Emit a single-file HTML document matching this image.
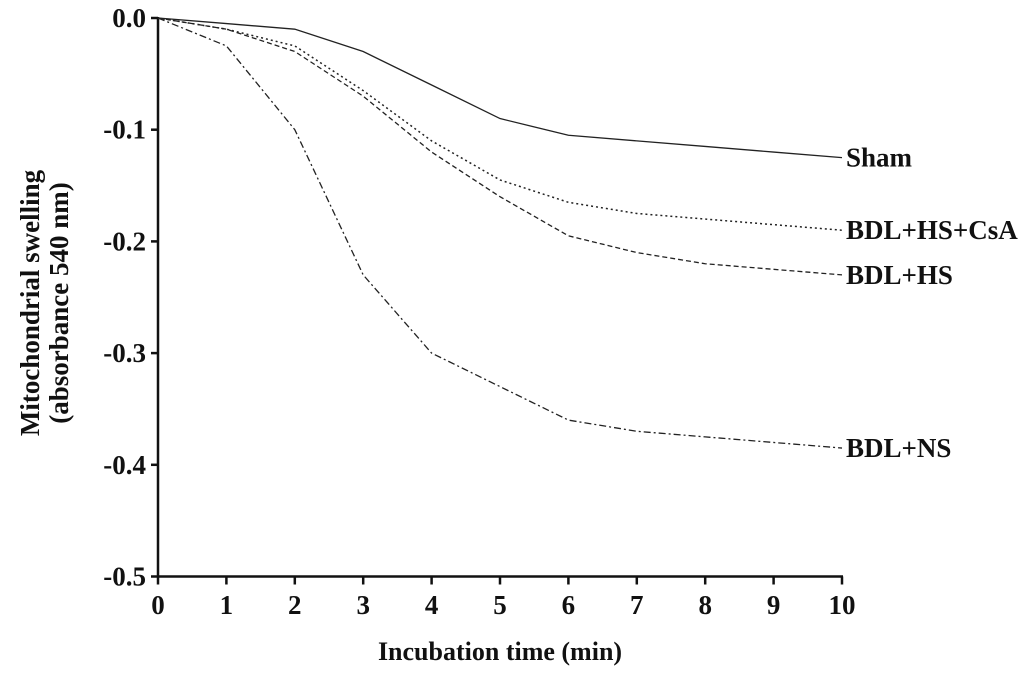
<!DOCTYPE html>
<html><head><meta charset="utf-8"><style>
body{margin:0;background:#fff}
svg text{font-family:"Liberation Serif",serif;font-weight:bold;fill:#111}
</style></head><body>
<svg width="1033" height="672" xmlns="http://www.w3.org/2000/svg">
<g id="g"></g>
</svg>
<script>
const times=[0,1,2,3,4,5,6,7,8,9,10];
const sham=[0,-0.005,-0.01,-0.03,-0.06,-0.09,-0.105,-0.11,-0.115,-0.12,-0.125];
const hsCsa=[0,-0.01,-0.025,-0.065,-0.11,-0.145,-0.165,-0.175,-0.18,-0.185,-0.19];
const hs=[0,-0.01,-0.03,-0.07,-0.12,-0.16,-0.195,-0.21,-0.22,-0.225,-0.23];
const ns=[0,-0.025,-0.1,-0.23,-0.3,-0.33,-0.36,-0.37,-0.375,-0.38,-0.385];
const xTicks=[0,1,2,3,4,5,6,7,8,9,10];
const yTicks=[0,-0.1,-0.2,-0.3,-0.4,-0.5];
const yLabels=["0.0","-0.1","-0.2","-0.3","-0.4","-0.5"];
const seriesNames=["Sham","BDL+HS+CsA","BDL+HS","BDL+NS"];
const X=v=>158+v*68.4, Y=v=>18-v*1117;
const g=document.getElementById('g'), NS='http://www.w3.org/2000/svg';
function el(t,a,txt){const e=document.createElementNS(NS,t);for(const k in a)e.setAttribute(k,a[k]);if(txt!=null)e.textContent=txt;g.appendChild(e);return e;}
let e;
e=el('line',{x1:X(0),y1:Y(0)-1,x2:X(0),y2:Y(-0.5),stroke:'#111','stroke-width':2.5});


e=el('line',{x1:X(0),y1:Y(-0.5),x2:X(10)+1,y2:Y(-0.5),stroke:'#111','stroke-width':2.5});


xTicks.forEach(t=>{
 el('line',{x1:X(t),y1:Y(-0.5),x2:X(t),y2:Y(-0.5)+8,stroke:'#111','stroke-width':2.5});
 e=el('text',{x:X(t),y:614,'text-anchor':'middle','font-size':27},t);
 
 
});
yTicks.forEach((t,i)=>{
 el('line',{x1:X(0)-7,y1:Y(t),x2:X(0),y2:Y(t),stroke:'#111','stroke-width':2.5});
 e=el('text',{x:146,y:Y(t)+9,'text-anchor':'end','font-size':27},yLabels[i]);
 
 
});
const styles=[{d:'',w:1.3},{d:'2 3',w:1.5},{d:'5 3',w:1.3},{d:'7 3 2 3',w:1.3}];
[sham,hsCsa,hs,ns].forEach((s,i)=>{
 const pts=s.map((v,j)=>X(times[j])+','+Y(v)).join(' ');
 e=el('polyline',{points:pts,fill:'none',stroke:'#222','stroke-width':styles[i].w,'stroke-dasharray':styles[i].d});
 
 
 e=el('text',{x:X(10)+4,y:Y(s[s.length-1])+9,'font-size':27},seriesNames[i]);
 
 
});
e=el('text',{x:500,y:660,'text-anchor':'middle','font-size':26},'Incubation time (min)');


e=el('text',{x:0,y:0,'text-anchor':'middle','font-size':27,transform:'translate(39,303) rotate(-90)'},'Mitochondrial swelling');


e=el('text',{x:0,y:0,'text-anchor':'middle','font-size':27,transform:'translate(68,303) rotate(-90)'},'(absorbance 540 nm)');


</script>
</body></html>
